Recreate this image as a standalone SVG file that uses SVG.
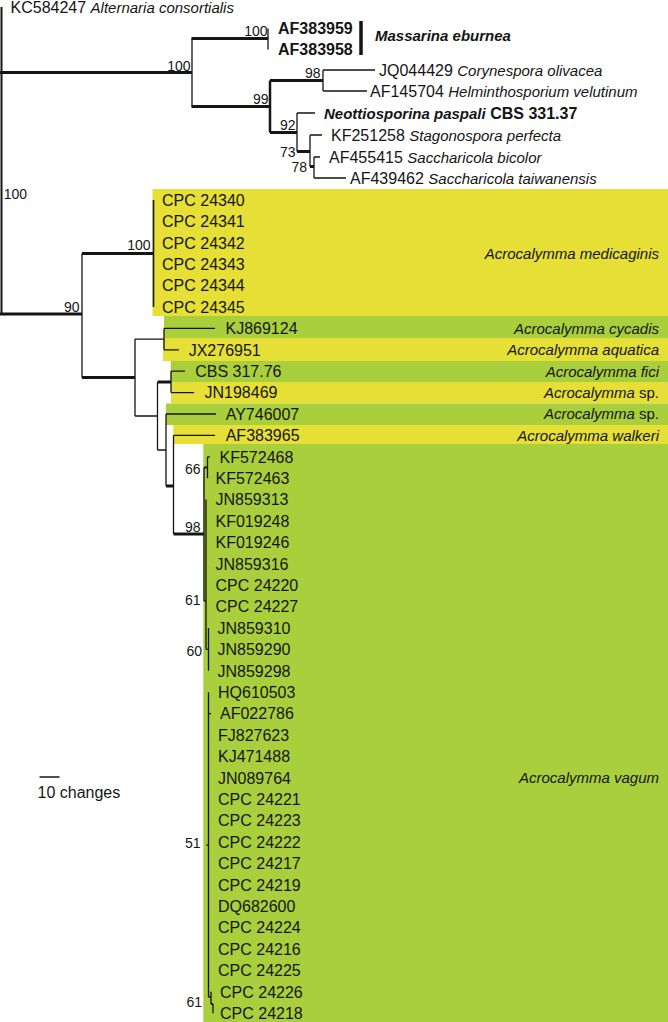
<svg xmlns="http://www.w3.org/2000/svg" width="668" height="1022" viewBox="0 0 668 1022">
<style>
text{font-family:"Liberation Sans",Arial,Helvetica,sans-serif;font-size:16px;fill:#151515}
.i{font-style:italic;font-size:15px}
.b{font-weight:bold}
.n{font-size:14px;text-anchor:end}
.sp{text-anchor:end;font-size:15px}
.th{stroke:#151515;stroke-width:1.3;fill:none}
.tk{stroke:#151515;stroke-width:3;fill:none}
.y{fill:#e6df36}
.g{fill:#a9cf3d}
</style>
<rect width="668" height="1022" fill="#ffffff"/>
<g id="bands">
<rect class="y" x="152.5" y="189" width="515.5" height="127"/>
<rect class="g" x="164" y="316" width="504" height="22"/>
<rect class="y" x="163" y="338" width="505" height="23"/>
<rect class="g" x="170.7" y="361" width="497.3" height="21"/>
<rect class="y" x="171" y="382" width="497" height="21.5"/>
<rect class="g" x="166" y="403.5" width="502" height="21.5"/>
<rect class="y" x="173.3" y="425" width="494.7" height="19"/>
<rect class="g" x="203.3" y="444" width="464.7" height="578"/>
</g>
<g id="connectors">
<path class="th" style="stroke-width:2" d="M1.5 7V314"/>
<path class="tk" d="M0 72.5H192M191.5 38.5H268M191.5 106.5H270M270 80.5H323M270 132.5H297M297 151.5H310M310 166.5H314"/>
<path class="th" d="M192 38.5V106.5M268 28.5V49.5M323 70V91M323 70H375M323 91H367M297 113V151.5M297 113H315M310 135V166.5M310 135H322M314 157V178M314 157H320M314 178H346"/>
<path class="th" style="stroke-width:2.5" d="M270 80.5V132.5"/>
<path class="tk" d="M0 314H82M82 253.5H153.5M82 377.5H135M157.5 382H171M166 486H173.5M173.5 534H204"/>
<path class="th" d="M82 253.5V377.5M135 339.1V416M135 339.1H164M164 328.4V349.8M164 328.4H215M164 349.8H179M135 416H157.5M157.5 382V450M171 371.2V392.6M171 371.2H185M171 392.6H194M157.5 450H166M166 414V486M166 414H216M173.5 435.4V534M173.5 435.4H215"/>
<path class="th" style="stroke-width:1.6" d="M153.5 200V307"/>
<path class="th" d="M204 467.5V601M207.5 456.8V478.2M207.5 456.8H210M204 601H206M206 499.6V649.4M206 649.4H208.5M208.5 628V670.8M206.5 845H208.5M208.5 692.2V997M208.5 713.6H211M208.5 997H211M211 991.8V1004M213 1004V1013.2"/>
<path class="th" style="stroke-width:2" d="M204 467.5H207.5M211 1004H213"/>
<path class="th" style="stroke-width:1.5" d="M39.5 777H59.5"/>
<path stroke="#151515" stroke-width="3.5" d="M361 21V55"/>
</g>
<g id="support">
<text class="n" x="267.5" y="36">100</text>
<text class="n" x="190.5" y="70.7">100</text>
<text class="n" x="320.5" y="78">98</text>
<text class="n" x="268.5" y="104">99</text>
<text class="n" x="295.5" y="129.5">92</text>
<text class="n" x="295.5" y="157">73</text>
<text class="n" x="307" y="172">78</text>
<text class="n" x="27" y="198.5">100</text>
<text class="n" x="79.5" y="312">90</text>
<text class="n" x="150.5" y="250">100</text>
<text class="n" x="200.5" y="473.5">66</text>
<text class="n" x="200.5" y="532">98</text>
<text class="n" x="200.5" y="605">61</text>
<text class="n" x="202" y="656">60</text>
<text class="n" x="200.5" y="848">51</text>
<text class="n" x="202" y="1007">61</text>
</g>
<g id="outgroup">
<text x="10.5" y="12.7">KC584247 <tspan class="i">Alternaria consortialis</tspan></text>
<text class="b" x="278" y="34.2">AF383959</text>
<text class="b" x="278" y="55.2">AF383958</text>
<text class="b i" x="375" y="41">Massarina eburnea</text>
<text x="379" y="75.7">JQ044429 <tspan class="i">Corynespora olivacea</tspan></text>
<text x="370" y="96.7">AF145704 <tspan class="i">Helminthosporium velutinum</tspan></text>
<text class="b" x="324" y="118.7"><tspan class="i">Neottiosporina paspali</tspan> CBS 331.37</text>
<text x="331" y="140.7">KF251258 <tspan class="i">Stagonospora perfecta</tspan></text>
<text x="329" y="162.7">AF455415 <tspan class="i">Saccharicola bicolor</tspan></text>
<text x="350" y="183.7">AF439462 <tspan class="i">Saccharicola taiwanensis</tspan></text>
</g>
<g id="medicaginis">
<text x="162" y="205.7">CPC 24340</text>
<text x="162" y="227.1">CPC 24341</text>
<text x="162" y="248.5">CPC 24342</text>
<text x="162" y="269.9">CPC 24343</text>
<text x="162" y="291.3">CPC 24344</text>
<text x="162" y="312.7">CPC 24345</text>
<text class="sp" x="659" y="258.5"><tspan class="i">Acrocalymma medicaginis</tspan></text>
</g>
<g id="cycadis"><text x="225.5" y="334.1">KJ869124</text><text class="sp" x="659" y="333.8"><tspan class="i">Acrocalymma cycadis</tspan></text></g>
<g id="aquatica"><text x="188.7" y="355.5">JX276951</text><text class="sp" x="659" y="355.2"><tspan class="i">Acrocalymma aquatica</tspan></text></g>
<g id="fici"><text x="195.2" y="376.9">CBS 317.76</text><text class="sp" x="659" y="376.6"><tspan class="i">Acrocalymma fici</tspan></text></g>
<g id="sp1"><text x="204.5" y="398.3">JN198469</text><text class="sp" x="659" y="398"><tspan class="i">Acrocalymma</tspan> sp.</text></g>
<g id="sp2"><text x="225.7" y="419.7">AY746007</text><text class="sp" x="659" y="419.4"><tspan class="i">Acrocalymma</tspan> sp.</text></g>
<g id="walkeri"><text x="225.7" y="441.1">AF383965</text><text class="sp" x="659" y="440.8"><tspan class="i">Acrocalymma walkeri</tspan></text></g>
<g id="vagum">
<text x="219.5" y="462.5">KF572468</text>
<text x="215.5" y="483.9">KF572463</text>
<text x="215.5" y="505.3">JN859313</text>
<text x="215.5" y="526.7">KF019248</text>
<text x="215.5" y="548.1">KF019246</text>
<text x="215.5" y="569.5">JN859316</text>
<text x="215.5" y="590.9">CPC 24220</text>
<text x="215.5" y="612.3">CPC 24227</text>
<text x="217.5" y="633.7">JN859310</text>
<text x="217.5" y="655.1">JN859290</text>
<text x="217.5" y="676.5">JN859298</text>
<text x="218" y="697.9">HQ610503</text>
<text x="220" y="719.3">AF022786</text>
<text x="218" y="740.7">FJ827623</text>
<text x="218" y="762.1">KJ471488</text>
<text x="218" y="783.5">JN089764</text>
<text x="218" y="804.9">CPC 24221</text>
<text x="218" y="826.3">CPC 24223</text>
<text x="218" y="847.7">CPC 24222</text>
<text x="218" y="869.1">CPC 24217</text>
<text x="218" y="890.5">CPC 24219</text>
<text x="218" y="911.9">DQ682600</text>
<text x="218" y="933.3">CPC 24224</text>
<text x="218" y="954.7">CPC 24216</text>
<text x="218" y="976.1">CPC 24225</text>
<text x="220" y="997.5">CPC 24226</text>
<text x="220" y="1018.9">CPC 24218</text>
<text class="sp" x="659" y="783"><tspan class="i">Acrocalymma vagum</tspan></text>
</g>
<g id="scale"><text x="37.5" y="797.5">10 changes</text></g>
</svg>
